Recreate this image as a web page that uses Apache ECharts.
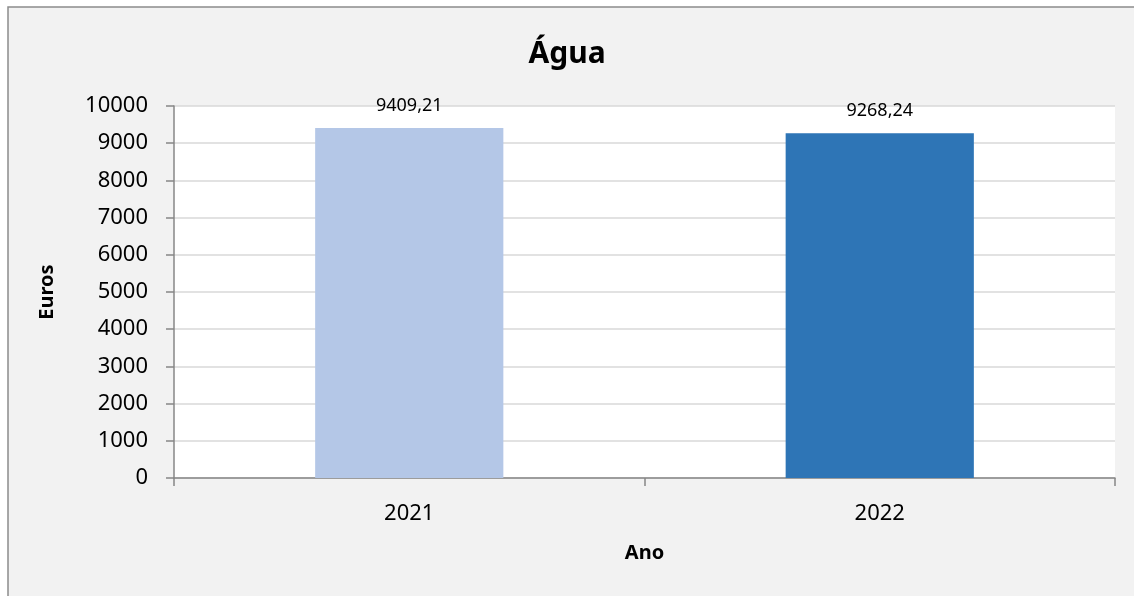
<!DOCTYPE html>
<html>
<head>
<meta charset="utf-8">
<script src="https://cdn.jsdelivr.net/npm/echarts@6/dist/echarts.min.js"></script>
<style>
  html, body { margin: 0; padding: 0; background: #fff; }
  #chart { width: 1134px; height: 596px; }
</style>
</head>
<body>
<div id="chart"></div>
<script>
var anos = ['2021', '2022']
var valores = [9409.21, 9268.24]
var cores = ['#b4c7e7', '#2e75b6']

var chart = echarts.init(document.getElementById('chart'))
chart.setOption({
  backgroundColor: '#fff',
  // moldura cinza do gráfico (só topo e esquerda aparecem)
  graphic: [
    {
      type: 'rect',
      z: -10,
      shape: { x: 8, y: 7, width: 1140, height: 600 },
      style: { fill: '#f2f2f2', stroke: '#8c8c8c', lineWidth: 1.5 },
      silent: true
    }
  ],
  title: {
    text: 'Água',
    left: 'center',
    top: 34,
    textStyle: { fontFamily: 'Noto Sans', fontSize: 30, fontWeight: 'bold', color: '#000' }
  },
  grid: {
    left: 174,
    right: 19,
    top: 106,
    bottom: 118,
    show: true,
    backgroundColor: '#fff',
    borderWidth: 0
  },
  xAxis: {
    type: 'category',
    data: anos,
    name: 'Ano',
    nameLocation: 'middle',
    nameGap: 65,
    nameTextStyle: { fontFamily: 'Noto Sans', fontSize: 20, fontWeight: 'bold', color: '#000' },
    axisLine: { lineStyle: { color: '#878787', width: 1.5 } },
    axisTick: { show: true, length: 8, alignWithLabel: false, lineStyle: { color: '#878787', width: 1.5 } },
    axisLabel: { fontFamily: 'Noto Sans', fontSize: 22, color: '#000', margin: 25 }
  },
  yAxis: {
    type: 'value',
    min: 0,
    max: 10000,
    interval: 1000,
    name: 'Euros',
    nameLocation: 'middle',
    nameGap: 117,
    nameRotate: 90,
    nameTextStyle: { fontFamily: 'Noto Sans', fontSize: 20, fontWeight: 'bold', color: '#000' },
    axisLine: { show: true, lineStyle: { color: '#878787', width: 1.5 } },
    axisTick: { show: true, length: 8, lineStyle: { color: '#878787', width: 1.5 } },
    axisLabel: {
      fontFamily: 'Noto Sans', fontSize: 22, color: '#000', margin: 26,
      formatter: function (v) { return String(v) }
    },
    splitLine: { lineStyle: { color: '#d9d9d9', width: 1.5 } }
  },
  series: [
    {
      type: 'bar',
      barWidth: '40%',
      data: valores.map(function (v, i) {
        return { value: v, itemStyle: { color: cores[i] } }
      }),
      label: {
        show: true,
        position: 'top',
        distance: 13,
        fontFamily: 'Noto Sans',
        fontSize: 18,
        color: '#000',
        formatter: function (p) {
          return p.value.toFixed(2).replace('.', ',')
        }
      }
    }
  ]
})
</script>
</body>
</html>
